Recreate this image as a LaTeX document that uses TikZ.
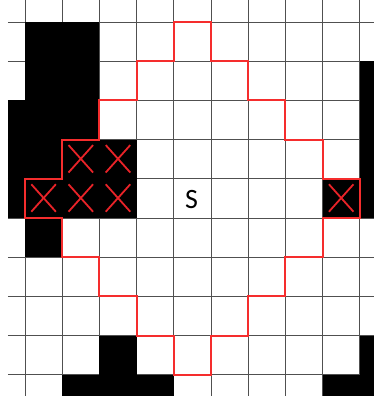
\documentclass[tikz,border=0pt]{standalone}
\usepackage{fontspec}
\setmainfont{Carlito}
\definecolor{pathred}{RGB}{245,45,45}
\definecolor{xred}{RGB}{232,35,40}
\definecolor{gridgray}{RGB}{80,80,80}
\begin{document}
\begin{tikzpicture}[x=37.2pt,y=-39.2pt,
  gridline/.style={draw=gridgray,line width=0.9pt},
  blk/.style={fill=black},
  redpath/.style={draw=pathred,line width=1.9pt,line join=miter},
  xmark/.style={draw=xred,line width=1.8pt},
  label/.style={font=\fontsize{28}{28}\selectfont,inner sep=0pt}]
\useasboundingbox[fill=white] (-0.672,-0.561) rectangle (9.382,9.541);
% grid
\foreach \j in {0,...,9} \draw[gridline] (-0.457,\j) -- (9.382,\j);
\foreach \i in {0,...,9} \draw[gridline] (\i,-0.561) -- (\i,9.541);
% obstacles
\fill[blk] (0,0) rectangle (2,2);
\fill[blk] (-0.457,2) rectangle (2,3);
\fill[blk] (-0.457,3) rectangle (3,5);
\fill[blk] (0,5) rectangle (1,6);
\fill[blk] (2,8) rectangle (3,9);
\fill[blk] (1,9) rectangle (4,9.541);
\fill[blk] (9,1) rectangle (9.382,5);
\fill[blk] (9,8) rectangle (9.382,9);
\fill[blk] (8,9) rectangle (9.382,9.541);
\fill[blk] (8,4) rectangle (9,5);
% boundary
\draw[redpath] (4,0) -- (5,0) -- (5,1) -- (6,1) -- (6,2) -- (7,2) -- (7,3) -- (8,3) -- (8,4) -- (9,4) -- (9,5) -- (8,5) -- (8,6) -- (7,6) -- (7,7) -- (6,7) -- (6,8) -- (5,8) -- (5,9) -- (4,9) -- (4,8) -- (3,8) -- (3,7) -- (2,7) -- (2,6) -- (1,6) -- (1,5) -- (0,5) -- (0,4) -- (1,4) -- (1,3) -- (2,3) -- (2,2) -- (3,2) -- (3,1) -- (4,1) -- cycle;
% crosses
\foreach \i/\j in {1/3,2/3,0/4,1/4,2/4,8/4} {
  \draw[xmark] (\i+0.17,\j+0.14) -- (\i+0.83,\j+0.84);
  \draw[xmark] (\i+0.83,\j+0.14) -- (\i+0.17,\j+0.84);
}
\node[label] (s) at (4.48,4.52) {S};
\end{tikzpicture}
\end{document}
